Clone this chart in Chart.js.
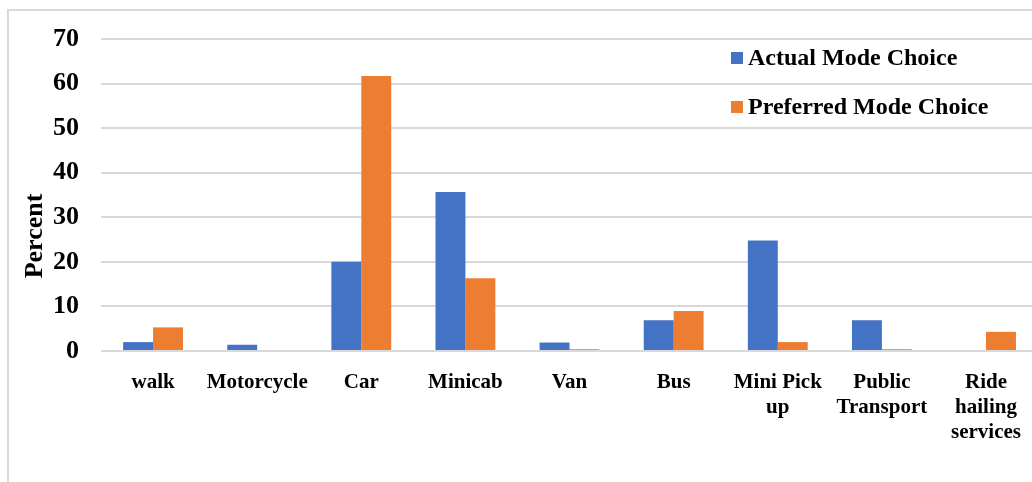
<!DOCTYPE html>
<html>
<head>
<meta charset="utf-8">
<script src="https://cdn.jsdelivr.net/npm/chart.js@4/dist/chart.umd.min.js"></script>
<style>
  html, body { margin: 0; padding: 0; background: #fff; overflow: hidden; }
  #wrap { position: relative; width: 1032px; height: 482px; overflow: hidden; }
  #frame { position: absolute; left: 7px; top: 9px; width: 1100px; height: 600px; border: 2px solid #d9d9d9; box-sizing: border-box; }
  #chart { position: absolute; left: 0; top: 0; }
</style>
</head>
<body>
<div id="wrap">
  <div id="frame"></div>
  <canvas id="chart" width="1040" height="482"></canvas>
</div>
<script>
// travel modes along the x axis
const modes = ['walk', 'Motorcycle', 'Car', 'Minicab', 'Van', 'Bus', ['Mini Pick', 'up'], ['Public', 'Transport'], ['Ride', 'hailing', 'services']];
// share of respondents (%)
const actualMode = [2.0, 1.4, 20.0, 35.7, 1.9, 6.9, 24.8, 6.9, 0];
const preferredMode = [5.3, 0, 61.7, 16.3, 0.4, 9.0, 2.0, 0.4, 4.3];
const seriesNames = ['Actual Mode Choice', 'Preferred Mode Choice'];
const seriesColors = ['#4472C4', '#ED7D31'];
const yTicks = [0, 10, 20, 30, 40, 50, 60, 70];

const serif = '"Liberation Serif", "Times New Roman", serif';

// legend drawn inside the plot, top right, plus the rotated axis title
const extras = {
  id: 'extras',
  afterDraw(chart) {
    const ctx = chart.ctx;
    ctx.save();
    ctx.font = 'bold 24px ' + serif;
    ctx.textBaseline = 'middle';
    ctx.textAlign = 'left';
    chart.data.datasets.forEach((ds, i) => {
      const y = 58 + i * 49;
      ctx.fillStyle = ds.backgroundColor;
      ctx.fillRect(731, y - 6, 12, 12);
      ctx.fillStyle = '#000';
      ctx.fillText(ds.label, 748, y + 1);
    });
    ctx.translate(35, 236);
    ctx.rotate(-Math.PI / 2);
    ctx.textAlign = 'center';
    ctx.font = 'bold 26px ' + serif;
    ctx.fillText('Percent', 0, 0);
    ctx.restore();
  }
};

new Chart(document.getElementById('chart').getContext('2d'), {
  type: 'bar',
  data: {
    labels: modes,
    datasets: [
      {label: seriesNames[0], data: actualMode, backgroundColor: seriesColors[0]},
      {label: seriesNames[1], data: preferredMode, backgroundColor: seriesColors[1]}
    ]
  },
  options: {
    responsive: false,
    animation: false,
    layout: {padding: {top: 39, left: 0, right: 0, bottom: 0}},
    datasets: {bar: {categoryPercentage: 0.575, barPercentage: 1}},
    plugins: {legend: {display: false}, tooltip: {enabled: false}},
    scales: {
      x: {
        grid: {display: false, drawTicks: false},
        border: {display: false},
        ticks: {color: '#000', padding: 19, maxRotation: 0, autoSkip: false,
          font: {family: serif, size: 21, weight: 'bold', lineHeight: 1.2}},
        afterFit(scale) { scale.height = 131; }
      },
      y: {
        min: 0, max: 70,
        afterBuildTicks(scale) { scale.ticks = yTicks.map(v => ({value: v})); },
        grid: {color: '#d9d9d9', lineWidth: 2, drawTicks: false},
        border: {display: false},
        ticks: {color: '#000', padding: 22,
          font: {family: serif, size: 26, weight: 'bold'}},
        afterFit(scale) { scale.width = 101; }
      }
    }
  },
  plugins: [extras]
});
</script>
</body>
</html>
